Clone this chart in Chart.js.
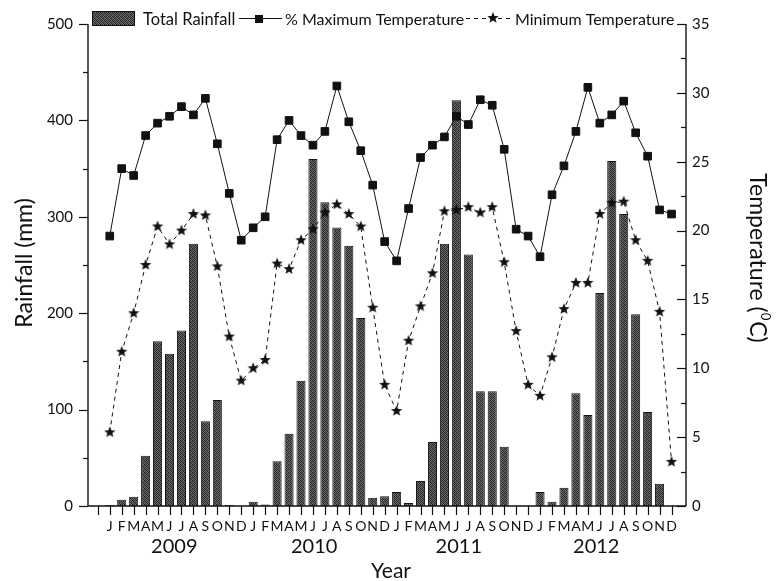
<!DOCTYPE html>
<html>
<head>
<meta charset="utf-8">
<script src="https://cdn.jsdelivr.net/npm/chart.js@4.4.1/dist/chart.umd.min.js"></script>
<style>
  html, body { margin: 0; padding: 0; background: #fff; }
  #wrap { width: 776px; height: 581px; }
</style>
</head>
<body>
<div id="wrap"><canvas id="rainChart" width="776" height="581"></canvas></div>
<script>
/* Monthly rainfall with max / min temperature, 2009-2012 */

const MONTHS = ['J', 'F', 'M', 'A', 'M', 'J', 'J', 'A', 'S', 'O', 'N', 'D'];
const YEARS = ['2009', '2010', '2011', '2012'];
const monthLabels = YEARS.flatMap(() => MONTHS);

// total rainfall (mm)
const rainfall = [
    1, 6.5, 9.5, 52, 171, 158, 182, 272, 88, 110, 1, 0,
    4.5, 1.5, 46.5, 75, 130, 360, 315, 289, 270, 195, 8.5, 10,
    14.5, 3, 26, 66.5, 272, 421, 261, 119, 119, 61.5, 0.5, 0,
    14.5, 4.5, 19, 117, 94.5, 221, 358, 303, 199, 97.5, 23, 0,
];
// maximum temperature (C)
const maxTemp = [
    19.6, 24.5, 24.0, 26.9, 27.8, 28.3, 29.0, 28.4, 29.6, 26.3, 22.7, 19.3,
    20.2, 21.0, 26.6, 28.0, 26.9, 26.2, 27.2, 30.5, 27.9, 25.8, 23.3, 19.2,
    17.8, 21.6, 25.3, 26.2, 26.8, 28.3, 27.7, 29.5, 29.1, 25.9, 20.1, 19.6,
    18.1, 22.6, 24.7, 27.2, 30.4, 27.8, 28.4, 29.4, 27.1, 25.4, 21.5, 21.2,
];
// minimum temperature (C)
const minTemp = [
    5.35, 11.2, 14.0, 17.5, 20.3, 19.0, 20.0, 21.2, 21.1, 17.4, 12.3, 9.1,
    10.0, 10.6, 17.6, 17.2, 19.3, 20.1, 21.3, 21.9, 21.2, 20.3, 14.4, 8.8,
    6.9, 12.0, 14.5, 16.9, 21.4, 21.5, 21.7, 21.3, 21.7, 17.7, 12.7, 8.8,
    8.0, 10.8, 14.3, 16.2, 16.2, 21.2, 22.0, 22.1, 19.3, 17.8, 14.1, 3.2,
];
const rainTicks = [0, 100, 200, 300, 400, 500];
const tempTicks = [0, 5, 10, 15, 20, 25, 30, 35];

const FONT = 'Lato, "Open Sans", sans-serif';
const INK = '#111';

// dithered grey fill for the bars
function makeBarPattern() {
    const tones = [
        ['#1a1a1a', '#5e5e5e', '#303030', '#747474'],
        ['#6a6a6a', '#262626', '#606060', '#383838'],
        ['#343434', '#787878', '#1e1e1e', '#5a5a5a'],
        ['#646464', '#3c3c3c', '#6e6e6e', '#242424'],
    ];
    const c = document.createElement('canvas');
    c.width = 4; c.height = 4;
    const g = c.getContext('2d');
    tones.forEach((row, r) => row.forEach((col, k) => { g.fillStyle = col; g.fillRect(k, r, 1, 1); }));
    return g.createPattern(c, 'repeat');
}

// filled five point star marker
function makeStar(r) {
    const c = document.createElement('canvas');
    const size = Math.ceil(r * 2 + 2);
    c.width = size; c.height = size;
    const g = c.getContext('2d');
    g.fillStyle = INK;
    g.beginPath();
    for (let i = 0; i < 10; i++) {
        const rad = i % 2 ? r * 0.43 : r;
        const a = -Math.PI / 2 + i * Math.PI / 5;
        g.lineTo(size / 2 + rad * Math.cos(a), size / 2 + rad * Math.sin(a));
    }
    g.closePath();
    g.fill();
    return c;
}

const barFill = makeBarPattern();
const starImg = makeStar(6);

const toXY = arr => arr.map((v, i) => ({ x: i, y: v }));

function seg(ctx, x1, y1, x2, y2) {
    ctx.beginPath();
    ctx.moveTo(x1, y1);
    ctx.lineTo(x2, y2);
    ctx.stroke();
}

// axes frame, ticks, legend and titles
const framePlugin = {
    id: 'frame',
    afterDraw(chart) {
        const { ctx, chartArea: a, scales } = chart;
        const { x, y, y1 } = scales;
        ctx.save();
        ctx.strokeStyle = INK;
        ctx.lineWidth = 1.4;

        seg(ctx, a.left, a.top, a.left, a.bottom);
        seg(ctx, a.left, a.bottom, a.right, a.bottom);
        seg(ctx, a.right, a.top, a.right, a.bottom);

        ctx.lineWidth = 1.2;
        for (let v = 0; v <= 500; v += 50) {
            const py = Math.round(y.getPixelForValue(v)) + 0.5;
            seg(ctx, a.left - (v % 100 ? 5 : 9), py, a.left, py);
        }
        for (let v = 0; v <= 35; v += 2.5) {
            const py = Math.round(y1.getPixelForValue(v)) + 0.5;
            seg(ctx, a.right - (v % 5 ? 5 : 9), py, a.right, py);
        }
        x.ticks.forEach(t => {
            const px = Math.round(x.getPixelForValue(t.value)) + 0.5;
            seg(ctx, px, a.bottom, px, a.bottom + 9);
        });

        ctx.fillStyle = INK;
        ctx.textAlign = 'center';
        ctx.textBaseline = 'middle';

        // year captions under the month letters
        ctx.font = '20px ' + FONT;
        const yearPos = [5.4, 17.1, 29.2, 40.7];
        YEARS.forEach((yr, i) => ctx.fillText(yr, x.getPixelForValue(yearPos[i]), 547));
        ctx.font = '21px ' + FONT;
        ctx.fillText('Year', 391, 571);

        // left title
        ctx.save();
        ctx.translate(25, 263);
        ctx.rotate(-Math.PI / 2);
        ctx.font = '23px ' + FONT;
        ctx.fillText('Rainfall (mm)', 0, 0);
        ctx.restore();

        // right title with raised degree zero
        ctx.save();
        ctx.translate(757, 258);
        ctx.rotate(Math.PI / 2);
        ctx.textAlign = 'left';
        const big = '23px ' + FONT, small = '13px ' + FONT;
        const p1 = 'Temperature (', p3 = 'C)';
        ctx.font = big; const w1 = ctx.measureText(p1).width, w3 = ctx.measureText(p3).width;
        ctx.font = small; const w2 = ctx.measureText('0').width + 1;
        let sx = -(w1 + w2 + w3) / 2;
        ctx.font = big; ctx.fillText(p1, sx, 0); sx += w1;
        ctx.font = small; ctx.fillText('0', sx, -8); sx += w2;
        ctx.font = big; ctx.fillText(p3, sx, 0);
        ctx.restore();

        // legend strip along the top
        ctx.textAlign = 'left';
        ctx.textBaseline = 'alphabetic';
        ctx.fillStyle = barFill;
        ctx.fillRect(92, 11, 43, 15);
        ctx.lineWidth = 1;
        ctx.strokeRect(92.5, 11.5, 42, 14);
        ctx.fillStyle = INK;
        ctx.font = '16.5px ' + FONT;
        ctx.fillText('Total Rainfall', 143, 25);
        ctx.font = '16px ' + FONT;

        seg(ctx, 239, 18.5, 282, 18.5);
        ctx.fillRect(255, 15, 8, 8);
        ctx.fillText('% Maximum Temperature', 285, 25);

        ctx.setLineDash([4, 4]);
        seg(ctx, 466, 18.5, 512, 18.5);
        ctx.setLineDash([]);
        ctx.drawImage(starImg, 493 - starImg.width / 2, 18 - starImg.height / 2);
        ctx.fillText('Minimum Temperature', 515, 25);

        ctx.restore();
    },
};

new Chart(document.getElementById('rainChart'), {
    type: 'bar',
    data: {
        datasets: [
            {
                type: 'line',
                label: '% Maximum Temperature',
                data: toXY(maxTemp),
                yAxisID: 'y1',
                borderColor: INK,
                borderWidth: 1,
                pointStyle: 'rect',
                pointRadius: 5.4,
                pointBackgroundColor: INK,
                pointBorderColor: INK,
                tension: 0,
                order: 1,
            },
            {
                type: 'line',
                label: 'Minimum Temperature',
                data: toXY(minTemp),
                yAxisID: 'y1',
                borderColor: INK,
                borderWidth: 1,
                borderDash: [4, 4],
                pointStyle: starImg,
                tension: 0,
                order: 2,
            },
            {
                type: 'bar',
                label: 'Total Rainfall',
                data: toXY(rainfall),
                yAxisID: 'y',
                backgroundColor: barFill,
                borderColor: '#151515',
                borderWidth: 1,
                categoryPercentage: 0.8,
                barPercentage: 0.95,
                order: 3,
            },
        ],
    },
    options: {
        responsive: false,
        animation: false,
        layout: { padding: { top: 20, left: 0, right: 0, bottom: 0 } },
        plugins: { legend: { display: false }, tooltip: { enabled: false } },
        scales: {
            x: {
                type: 'linear',
                min: -1.31,
                max: 47.7,
                grid: { display: false, drawTicks: false },
                border: { display: false },
                afterBuildTicks: s => { s.ticks = [-1].concat(monthLabels.map((_, i) => i)).map(v => ({ value: v })); },
                afterFit: s => { s.height = 75; },
                ticks: {
                    autoSkip: false,
                    maxRotation: 0,
                    padding: 12,
                    color: INK,
                    font: { family: FONT, size: 14 },
                    callback: v => (v >= 0 ? monthLabels[v] : ''),
                },
            },
            y: {
                position: 'left',
                min: 0,
                max: 500,
                grid: { display: false, drawTicks: false },
                border: { display: false },
                afterBuildTicks: s => { s.ticks = rainTicks.map(v => ({ value: v })); },
                afterFit: s => { s.width = 88; },
                ticks: { padding: 15, color: INK, font: { family: FONT, size: 15 } },
            },
            y1: {
                position: 'right',
                min: 0,
                max: 35,
                grid: { display: false, drawTicks: false },
                border: { display: false },
                afterBuildTicks: s => { s.ticks = tempTicks.map(v => ({ value: v })); },
                afterFit: s => { s.width = 90; },
                ticks: { padding: 6, color: INK, font: { family: FONT, size: 15 } },
            },
        },
    },
    plugins: [framePlugin],
});
</script>
</body>
</html>
